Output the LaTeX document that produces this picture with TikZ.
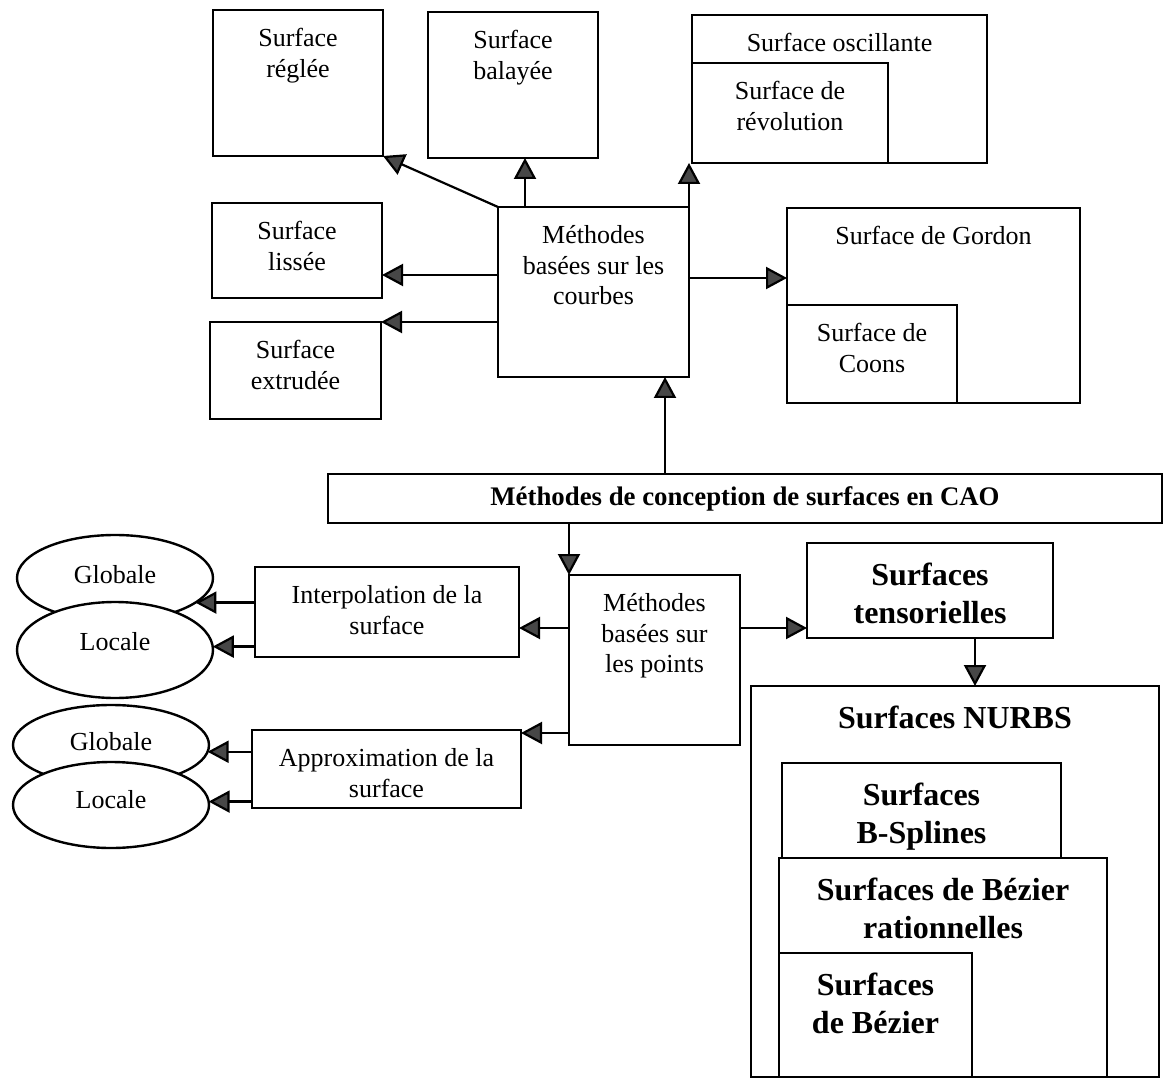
\documentclass[tikz,border=0pt]{standalone}
\usepackage{fontspec}
\setmainfont{Liberation Serif}
\usetikzlibrary{arrows.meta,positioning,shapes.geometric,fit}

\tikzset{
  boite/.style={draw,line width=1.2pt,fill=white,inner sep=0pt,outer sep=0pt},
  bulle/.style={ellipse,draw,line width=1.2pt,fill=white,inner sep=0pt,outer sep=0pt,minimum width=98pt},
  texte/.style={align=center,inner sep=0pt,font=\fontsize{13}{15.3}\selectfont},
  gras/.style={texte,font=\bfseries\fontsize{16}{19}\selectfont},
  fleche/.style={line width=1.1pt,-{Triangle[length=10.5pt,width=11pt,fill=black!72]}}
}

\begin{document}
\begin{tikzpicture}[x=0.5pt,y=-0.5pt]
\useasboundingbox (0,0) rectangle (1165,1079);
% methodes basees sur les courbes
\node[boite,fit={(213,10) (383,156)}] (regle) {};
\node[texte,below=9pt of regle.north] (regle-t) {Surface\\réglée};
\node[boite,fit={(428,12) (598,158)}] (balayee) {};
\node[texte,below=9pt of balayee.north] (balayee-t) {Surface\\balayée};
\node[boite,fit={(692,15) (987,163)}] (oscill) {};
\node[texte,below=9pt of oscill.north] (oscill-t) {Surface oscillante};
\node[boite,fit={(692,63) (888,163)}] (revol) {};
\node[texte,below=9pt of revol.north] (revol-t) {Surface de\\révolution};
\node[boite,fit={(212,203) (382,298)}] (lisse) {};
\node[texte,below=9pt of lisse.north] (lisse-t) {Surface\\lissée};
\node[boite,fit={(210,322) (381,419)}] (extrude) {};
\node[texte,below=9pt of extrude.north] (extrude-t) {Surface\\extrudée};
\node[boite,fit={(498,207) (689,377)}] (courbes) {};
\node[texte,below=9pt of courbes.north] (courbes-t) {Méthodes\\basées sur les\\courbes};
\node[boite,fit={(787,208) (1080,403)}] (gordon) {};
\node[texte,below=9pt of gordon.north] (gordon-t) {Surface de Gordon};
\node[boite,fit={(787,305) (957,403)}] (coons) {};
\node[texte,below=9pt of coons.north] (coons-t) {Surface de\\Coons};
% barre centrale
\node[boite,fit={(328,474) (1162,523)}] (cao) {};
\node[texte,font=\bfseries\fontsize{13.4}{15}\selectfont] (cao-t) at (cao.center) {Méthodes de conception de surfaces en CAO};
% methodes basees sur les points
\node[boite,fit={(569,575) (740,745)}] (points) {};
\node[texte,below=9pt of points.north] (points-t) {Méthodes\\basées sur\\les points};
\node[boite,fit={(255,567) (519,657)}] (interp) {};
\node[texte,below=9pt of interp.north] (interp-t) {Interpolation de la\\surface};
\node[boite,fit={(252,730) (521,808)}] (approx) {};
\node[texte,below=9pt of approx.north] (approx-t) {Approximation de la\\surface};
\node[bulle,minimum height=43pt] (glob1) at (115,578) {};
\node[texte] (glob1-t) at (115,575) {Globale};
\node[bulle,minimum height=48pt] (loc1) at (115,650) {};
\node[texte] (loc1-t) at (115,642) {Locale};
\node[bulle,minimum height=40pt] (glob2) at (111,745) {};
\node[texte] (glob2-t) at (111,742) {Globale};
\node[bulle,minimum height=43pt] (loc2) at (111,805) {};
\node[texte] (loc2-t) at (111,800) {Locale};
% surfaces tensorielles
\node[boite,fit={(807,543) (1053,638)}] (tensor) {};
\node[gras,below=10pt of tensor.north] (tensor-t) {Surfaces\\tensorielles};
\node[boite,fit={(751,686) (1159,1077)}] (nurbs) {};
\node[gras,below=10pt of nurbs.north] (nurbs-t) {Surfaces NURBS};
\node[boite,fit={(782,763) (1061,1077)}] (bspl) {};
\node[gras,below=10pt of bspl.north] (bspl-t) {Surfaces\\B-Splines};
\node[boite,fit={(779,858) (1107,1077)}] (ratio) {};
\node[gras,below=10pt of ratio.north] (ratio-t) {Surfaces de Bézier\\rationnelles};
\node[boite,fit={(779,953) (972,1077)}] (bezier) {};
\node[gras,below=10pt of bezier.north] (bezier-t) {Surfaces\\de Bézier};
% fleches
\draw[fleche] (courbes.north west) -- (regle.south east);
\draw[fleche] (525,0 |- courbes.north) -- (525,0 |- balayee.south);
\draw[fleche] (courbes.north east) -- (courbes.north east |- oscill.south);
\draw[fleche] (courbes.west |- 0,275) -- (lisse.east |- 0,275);
\draw[fleche] (courbes.west |- extrude.north east) -- (extrude.north east);
\draw[fleche] (courbes.east |- 0,278) -- (gordon.west |- 0,278);
\draw[fleche] (665,0 |- cao.north) -- (665,0 |- courbes.south);
\draw[fleche] (points.north west |- cao.south) -- (points.north west);
\draw[fleche] (points.west |- 0,628) -- (interp.east |- 0,628);
\draw[fleche] (points.west |- 0,733) -- (approx.east |- 0,733);
\draw[fleche] (points.east |- 0,628) -- (tensor.west |- 0,628);
\draw[fleche] (975,0 |- tensor.south) -- (975,0 |- nurbs.north);
\draw[fleche] (interp.west |- glob1.-17) -- (glob1.-17);
\draw[fleche] (interp.west |- loc1.2) -- (loc1.2);
\draw[fleche] (approx.west |- glob2.-4) -- (glob2.-4);
\draw[fleche] (approx.west |- loc2.2) -- (loc2.2);
\end{tikzpicture}
\end{document}
